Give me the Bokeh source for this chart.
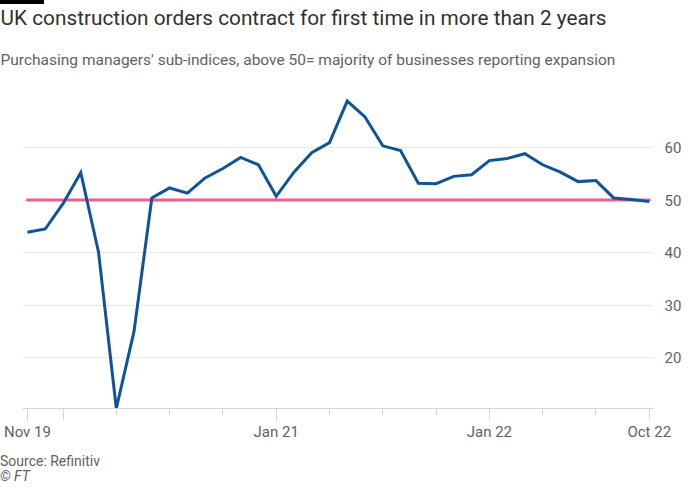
from bokeh.plotting import figure
from bokeh.models import Title, FixedTicker, Range1d, Div
from bokeh.layouts import column
from bokeh.embed import file_html
from bokeh.resources import INLINE

# ---- data ----
months = ["Nov 19", "Dec 19", "Jan 20", "Feb 20", "Mar 20", "Apr 20", "May 20", "Jun 20",
          "Jul 20", "Aug 20", "Sep 20", "Oct 20", "Nov 20", "Dec 20", "Jan 21", "Feb 21",
          "Mar 21", "Apr 21", "May 21", "Jun 21", "Jul 21", "Aug 21", "Sep 21", "Oct 21",
          "Nov 21", "Dec 21", "Jan 22", "Feb 22", "Mar 22", "Apr 22", "May 22", "Jun 22",
          "Jul 22", "Aug 22", "Sep 22", "Oct 22"]
new_orders = [43.9, 44.5, 49.3, 55.2, 40.1, 10.4, 25.1, 50.4,
              52.3, 51.3, 54.2, 56.0, 58.1, 56.7, 50.7, 55.3,
              59.0, 60.9, 68.8, 65.8, 60.3, 59.4, 53.2, 53.1,
              54.5, 54.8, 57.5, 57.9, 58.8, 56.7, 55.3, 53.5,
              53.7, 50.4, 50.1, 49.7]
threshold = 50
y_ticks = [20, 30, 40, 50, 60]
x_label_months = ["Nov 19", "Jan 21", "Jan 22", "Oct 22"]
x_unlabeled_major = ["Jan 20"]
x_minor_months = ["Apr 20", "Jul 20", "Oct 20", "Apr 21", "Jul 21", "Oct 21", "Apr 22", "Jul 22"]

title = "UK construction orders contract for first time in more than 2 years"
subtitle = "Purchasing managers' sub-indices, above 50= majority of businesses reporting expansion"
source = "Source: Refinitiv"
credit = "© FT"

FONT = "Roboto"
TEXT_DARK = "#33302E"
TEXT_MID = "#66605C"
BLUE = "#0F5499"
PINK = "#EB5E8D"
GRID = "#EFE7E0"
AXIS = "#DCD3CC"

xs = list(range(len(months)))
idx = {m: i for i, m in enumerate(months)}

W = 684
LEFT = 22
BAR_H = 4
FOOT_H = 41
TOTAL_H = 484

# thin black header bar
bar = Div(text="", width=44, height=BAR_H, margin=0,
          styles={"background-color": "black"})

p = figure(width=W, height=TOTAL_H - BAR_H - FOOT_H, output_backend="svg", toolbar_location=None,
           x_range=Range1d(-0.28, len(months) - 1 + 0.24),
           y_range=Range1d(min(new_orders), 71),
           min_border_left=LEFT, min_border_right=21, min_border_top=0, min_border_bottom=0,
           y_axis_location="right", margin=0)
p.outline_line_color = None
p.background_fill_color = "white"
p.border_fill_color = "white"

# threshold and series
p.line([xs[0] - 0.07, xs[-1] + 0.07], [threshold, threshold], line_color=PINK, line_width=3)
p.line(xs, new_orders, line_color=BLUE, line_width=3, line_join="miter")

# x axis
xa = p.xaxis[0]
major = sorted([idx[m] for m in x_label_months + x_unlabeled_major])
xa.ticker = FixedTicker(ticks=major, minor_ticks=[idx[m] for m in x_minor_months])
xa.major_label_overrides = {i: (months[i] if months[i] in x_label_months else "") for i in major}
xa.axis_line_color = AXIS
xa.major_tick_line_color = AXIS
xa.minor_tick_line_color = AXIS
xa.major_tick_in = 0
xa.major_tick_out = 12
xa.minor_tick_in = 0
xa.minor_tick_out = 7
xa.major_label_standoff = 2
xa.major_label_text_font = FONT
xa.major_label_text_font_size = "15px"
xa.major_label_text_color = TEXT_MID
p.xgrid.grid_line_color = None

# y axis
ya = p.yaxis[0]
ya.ticker = FixedTicker(ticks=y_ticks)
ya.axis_line_color = None
ya.major_tick_line_color = None
ya.minor_tick_line_color = None
ya.major_label_standoff = 5
ya.major_label_text_font = FONT
ya.major_label_text_font_size = "15px"
ya.major_label_text_color = TEXT_MID
p.ygrid.grid_line_color = GRID

def add_title(txt, size, color, standoff):
    t = Title(text=txt, align="left", offset=-LEFT, text_font=FONT, text_font_size=size,
              text_color=color, text_font_style="normal", standoff=standoff)
    p.add_layout(t, "above")

# above: first added sits closest to the frame
add_title(subtitle, "15.5px", TEXT_MID, 41)
add_title(title, "20.8px", TEXT_DARK, -2)

footer = Div(text=f"{source}<br><i>{credit}</i>", width=W, height=FOOT_H, margin=0,
             styles={"font-family": FONT, "font-size": "14px", "line-height": "15px",
                     "color": TEXT_MID, "padding-top": "11px", "box-sizing": "border-box"})

layout = column(bar, p, footer, spacing=0)
open("out.html", "w").write(file_html(layout, INLINE))
